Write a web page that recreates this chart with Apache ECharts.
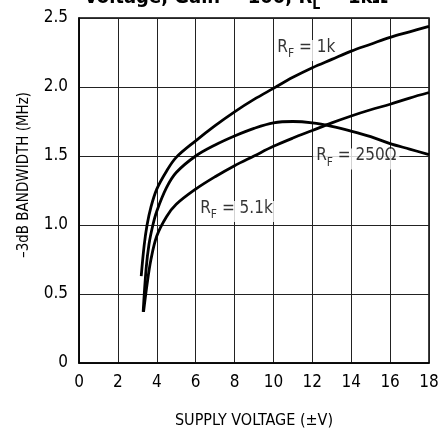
<!DOCTYPE html>
<html><head><meta charset="utf-8">
<script src="https://cdn.jsdelivr.net/npm/echarts@6/dist/echarts.min.js"></script>
<style>html,body{margin:0;padding:0;background:#fff}#c{width:442px;height:434px}</style>
</head><body><div id="c"></div>
<script>
// Data
var xTicks = [0,2,4,6,8,10,12,14,16,18];
var yTicks = [0,0.5,1.0,1.5,2.0,2.5];
var rf1k = [[3.2,0.63],[3.35,0.85],[3.5,1.0],[3.7,1.13],[4,1.26],[4.5,1.39],[5,1.49],[6,1.61],[7,1.72],[8,1.82],[9,1.91],[10,1.99],[11,2.07],[12,2.14],[13,2.2],[14,2.26],[15,2.31],[16,2.36],[17,2.4],[18,2.44]];
var rf250 = [[3.3,0.37],[3.45,0.68],[3.6,0.86],[3.8,1.0],[4,1.1],[4.5,1.27],[5,1.38],[6,1.5],[7,1.58],[8,1.645],[9,1.7],[10,1.74],[11,1.75],[12,1.74],[13,1.715],[14,1.68],[15,1.64],[16,1.59],[17,1.55],[18,1.51]];
var rf51k = [[3.32,0.37],[3.5,0.57],[3.7,0.75],[4,0.92],[4.5,1.06],[5,1.15],[6,1.26],[7,1.35],[8,1.43],[9,1.5],[10,1.57],[11,1.63],[12,1.685],[13,1.74],[14,1.79],[15,1.835],[16,1.875],[17,1.92],[18,1.96]];
var seriesNames = ['1k','250Ω','5.1k'];
var labelPos = [[11.69,2.265],[14.26,1.478],[8.1,1.097]];
var titleText = ['Voltage, Gain = 100, R','L',' = 1kΩ'];
var xName = 'SUPPLY VOLTAGE (±V)';
var yName = '–3dB BANDWIDTH (MHz)';

var FONT = '"Liberation Sans Narrow","DejaVu Sans Condensed","Roboto",sans-serif';
var chart = echarts.init(document.getElementById('c'), null, {renderer:'canvas'});
function lineSeries(name, data){
  return {name:name, type:'line', data:data, smooth:0.35, showSymbol:false, symbol:'none',
    lineStyle:{color:'#000', width:2.8}, z:4, silent:true};
}
function labelSeries(i){
  return {type:'scatter', data:[labelPos[i]], symbolSize:0, z:2, silent:true,
    label:{show:true, position:'inside', formatter:'{r|R}{s|F}{r| = '+seriesNames[i]+'}',
      backgroundColor:'#fff', padding:[3,3,1,3],
      rich:{r:{fontFamily:FONT,fontSize:17,color:'#000',lineHeight:17,padding:[0,0,4,0],verticalAlign:'bottom'},
            s:{fontFamily:FONT,fontSize:12,color:'#000',lineHeight:12,padding:[9,0,0,0],verticalAlign:'bottom'}}}};
}
chart.setOption({
  animation:false,
  backgroundColor:'#fff',
  title:{text:'{a|'+titleText[0]+'}{s|'+titleText[1]+'}{a|'+titleText[2]+'}', left:79, top:-13,
    textStyle:{rich:{a:{fontFamily:FONT,fontWeight:'bold',fontSize:20,color:'#000',lineHeight:20,padding:[0,0,4,0],verticalAlign:'bottom'},
      s:{fontFamily:FONT,fontWeight:'bold',fontSize:14,color:'#000',lineHeight:14,padding:[10,0,0,0],verticalAlign:'bottom'}}}},
  grid:{left:79, right:13, top:18, bottom:65, show:true, borderColor:'#000', borderWidth:1.5, backgroundColor:'transparent'},
  xAxis:{type:'value', min:xTicks[0], max:xTicks[xTicks.length-1], interval:2,
    name:xName, nameLocation:'middle', nameGap:50,
    nameTextStyle:{fontFamily:FONT,fontSize:16,color:'#000'},
    axisLine:{show:true,onZero:false,lineStyle:{color:'#000',width:1.5}},
    axisTick:{show:false},
    axisLabel:{fontFamily:FONT,fontSize:17,color:'#000',margin:11,showMinLabel:true,showMaxLabel:true},
    splitLine:{show:true,lineStyle:{color:'#222',width:1}}},
  yAxis:{type:'value', min:yTicks[0], max:yTicks[yTicks.length-1], interval:0.5,
    axisLine:{show:true,lineStyle:{color:'#000',width:1.5}},
    axisTick:{show:false},
    axisLabel:{fontFamily:FONT,fontSize:17,color:'#000',margin:11,
      formatter:function(v){return v===0?'0':v.toFixed(1);}},
    splitLine:{show:true,lineStyle:{color:'#222',width:1}}},
  graphic:[{type:'text', x:24, y:175, rotation:Math.PI/2,
    style:{text:yName, font:'15px '+FONT, fill:'#000', align:'center', verticalAlign:'middle'}}],
  series:[lineSeries(seriesNames[0],rf1k), lineSeries(seriesNames[1],rf250), lineSeries(seriesNames[2],rf51k),
    labelSeries(0), labelSeries(1), labelSeries(2)]
});
</script></body></html>
